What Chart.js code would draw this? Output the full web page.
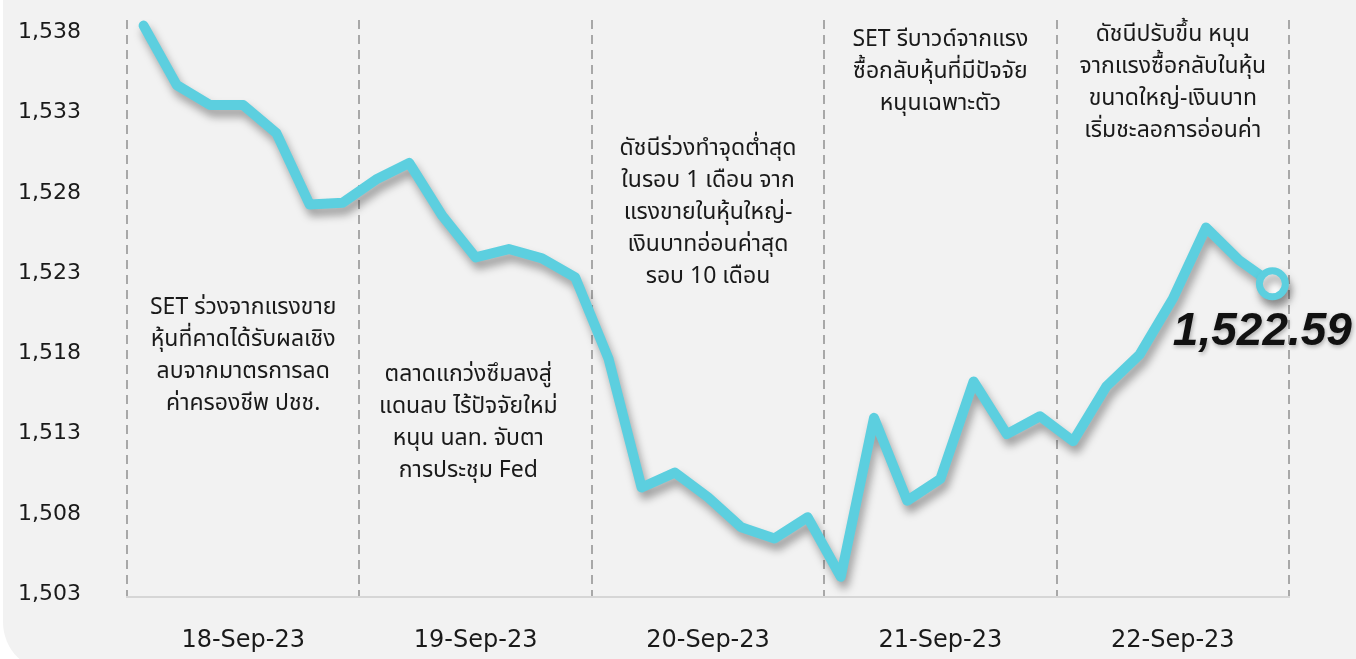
<!DOCTYPE html>
<html>
<head>
<meta charset="utf-8">
<script src="https://cdn.jsdelivr.net/npm/chart.js@4.4.1/dist/chart.umd.min.js"></script>
<style>
	html, body { margin: 0; padding: 0; background: #ffffff; overflow: hidden; }
	.card {
		position: absolute; left: 3px; top: -60px; right: -100px; height: 732px;
		background: #f2f2f2; border-radius: 50px;
	}
	#chart { position: absolute; left: 0; top: 0; }
</style>
</head>
<body>
<div class="card"></div>
<canvas id="chart" width="1356" height="659"></canvas>
<script>
// Days on the x axis, 7 readings per day
const days = ['18-Sep-23', '19-Sep-23', '20-Sep-23', '21-Sep-23', '22-Sep-23'];
const slotsPerDay = 7;

// SET index readings
const setIndex = [
	1538.68, 1534.97, 1533.73, 1533.73, 1531.98, 1527.54, 1527.65,
	1529.09, 1530.12, 1526.82, 1524.24, 1524.76, 1524.18, 1523.00,
	1517.95, 1509.90, 1510.83, 1509.29, 1507.43, 1506.73, 1508.05,
	1504.34, 1514.24, 1509.08, 1510.44, 1516.51, 1513.23, 1514.34,
	1512.79, 1516.20, 1518.18, 1521.66, 1526.10, 1524.06, 1522.59
];

// y axis ticks
const yTickValues = [1503.26, 1508.26, 1513.26, 1518.26, 1523.26, 1528.26, 1533.26, 1538.26];
const yTickLabels = ['1,503', '1,508', '1,513', '1,518', '1,523', '1,528', '1,533', '1,538'];
const yMin = 1503.08;
const yMax = 1539.03;

// Notes for each day
const notes = [
	['SET ร่วงจากแรงขาย', 'หุ้นที่คาดได้รับผลเชิง', 'ลบจากมาตรการลด', 'ค่าครองชีพ ปชช.'],
	['ตลาดแกว่งซึมลงสู่', 'แดนลบ ไร้ปัจจัยใหม่', 'หนุน นลท. จับตา', 'การประชุม Fed'],
	['ดัชนีร่วงทำจุดต่ำสุด', 'ในรอบ 1 เดือน จาก', 'แรงขายในหุ้นใหญ่-', 'เงินบาทอ่อนค่าสุด', 'รอบ 10 เดือน'],
	['SET รีบาวด์จากแรง', 'ซื้อกลับหุ้นที่มีปัจจัย', 'หนุนเฉพาะตัว'],
	['ดัชนีปรับขึ้น หนุน', 'จากแรงซื้อกลับในหุ้น', 'ขนาดใหญ่-เงินบาท', 'เริ่มชะลอการอ่อนค่า']
];
// value on the y scale where the first line of each note sits
const noteAnchor = [1521.02, 1516.82, 1530.93, 1537.67, 1538.04];
// small sideways nudge of each note, in slots
const noteShift = [0, -0.22, 0, 0, 0];

// one label per reading slot
const labels = [];
days.forEach((d) => {
	for (let k = 0; k < slotsPerDay; k++) labels.push(d + ' #' + (k + 1));
});

const lastIdx = setIndex.length - 1;
const lastText = setIndex[lastIdx].toLocaleString('en-US', { minimumFractionDigits: 2 });

const thaiFont = "'Noto Sans Thai', 'Noto Sans', 'DejaVu Sans', sans-serif";

// soft shadow under the line
const shadowPlugin = {
	id: 'lineShadow',
	beforeDatasetDraw(chart) {
		const ctx = chart.ctx;
		ctx.save();
		ctx.shadowColor = 'rgba(0,0,0,0.35)';
		ctx.shadowBlur = 8;
		ctx.shadowOffsetX = 3;
		ctx.shadowOffsetY = 7;
	},
	afterDatasetDraw(chart) {
		chart.ctx.restore();
	}
};

// day notes and last value label
const notesPlugin = {
	id: 'dayNotes',
	afterDatasetsDraw(chart) {
		const ctx = chart.ctx;
		const x = chart.scales.x;
		const y = chart.scales.y;
		ctx.save();
		ctx.fillStyle = '#1a1a1a';
		ctx.textAlign = 'center';
		ctx.textBaseline = 'middle';
		ctx.font = '23px ' + thaiFont;
		notes.forEach((lines, d) => {
			const cx = x.getPixelForValue(d * slotsPerDay + 3 + noteShift[d]);
			const top = y.getPixelForValue(noteAnchor[d]);
			lines.forEach((line, i) => {
				ctx.fillText(line, cx, top + i * 32);
			});
		});

		// last value
		const pt = chart.getDatasetMeta(0).data[lastIdx];
		ctx.font = 'italic bold 46px "Liberation Sans", Arial, sans-serif';
		ctx.fillStyle = '#111111';
		ctx.shadowColor = 'rgba(0,0,0,0.3)';
		ctx.shadowBlur = 4;
		ctx.shadowOffsetX = 1;
		ctx.shadowOffsetY = 2;
		ctx.fillText(lastText, pt.x - 10, pt.y + 48);
		ctx.restore();
	}
};

new Chart(document.getElementById('chart'), {
	type: 'line',
	data: {
		labels: labels,
		datasets: [{
			data: setIndex,
			borderColor: '#5ccfdf',
			borderWidth: 10,
			borderJoinStyle: 'round',
			borderCapStyle: 'round',
			tension: 0,
			fill: false,
			clip: false,
			pointRadius: (c) => c.dataIndex === lastIdx ? 13 : 0,
			pointBorderWidth: 7,
			pointBorderColor: '#5ccfdf',
			pointBackgroundColor: '#ffffff',
			pointHoverRadius: 0
		}]
	},
	options: {
		responsive: false,
		devicePixelRatio: 1,
		animation: false,
		layout: { padding: { left: 18, top: 16, right: 67, bottom: 0 } },
		plugins: {
			legend: { display: false },
			tooltip: { enabled: false }
		},
		scales: {
			x: {
				offset: true,
				afterFit: (s) => { s.height = 62; },
				grid: {
					offset: true,
					drawTicks: false,
					lineWidth: 2,
					color: (c) => (c.type === 'scale' || c.index % slotsPerDay === 0) ? '#a8a8a8' : 'rgba(0,0,0,0)'
				},
				border: { display: true, color: '#d6d6d6', width: 2, dash: [9, 6] },
				ticks: {
					autoSkip: false,
					maxRotation: 0,
					padding: 29,
					color: '#1a1a1a',
					font: { family: "'DejaVu Sans', sans-serif", size: 24 },
					callback: (v, i) => i % slotsPerDay === 3 ? days[Math.floor(i / slotsPerDay)] : ''
				}
			},
			y: {
				min: yMin,
				max: yMax,
				afterFit: (s) => { s.width = 109; },
				afterBuildTicks: (s) => { s.ticks = yTickValues.map((v) => ({ value: v })); },
				grid: { display: false, drawTicks: false },
				border: { display: false },
				ticks: {
					padding: 0,
					crossAlign: 'far',
					color: '#1a1a1a',
					font: { family: "'DejaVu Sans', sans-serif", size: 22 },
					callback: (v, i) => yTickLabels[i]
				}
			}
		}
	},
	plugins: [shadowPlugin, notesPlugin]
});
</script>
</body>
</html>
